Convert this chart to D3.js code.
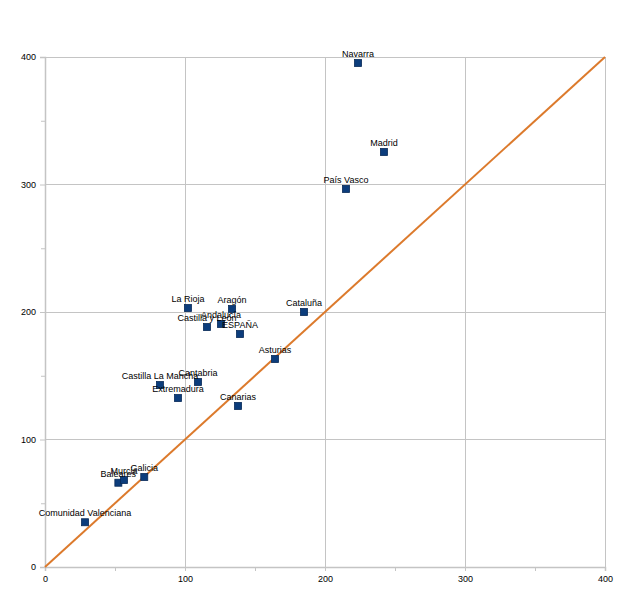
<!DOCTYPE html>
<html><head><meta charset="utf-8">
<script src="https://cdn.jsdelivr.net/npm/d3@7"></script>
<style>body{margin:0;background:#fff}svg{display:block}text{font-family:"Liberation Sans",Arial,sans-serif}</style>
</head><body>
<script>
const regions = ["Navarra","Madrid","País Vasco","La Rioja","Aragón","Cataluña","Castilla y León","Andalucía","ESPAÑA","Asturias","Castilla La Mancha","Cantabria","Extremadura","Canarias","Baleares","Murcia","Galicia","Comunidad Valenciana"];
const xValues = [223.6,242.1,215.0,102.1,133.6,185.0,115.7,125.7,139.3,164.3,82.1,109.3,95.0,137.9,52.4,56.4,70.9,28.6];
const yValues = [395.3,325.5,296.5,203.1,202.4,200.0,188.2,190.6,182.7,163.1,142.7,145.1,132.5,126.3,66.1,68.2,70.6,35.1];
const majorTicks = [0,100,200,300,400];
const minorTicks = [50,150,250,350];
const diagonal = [[0,0],[400,400]];

const W=640,H=604;
const svg=d3.select("body").append("svg").attr("width",W).attr("height",H);
const x=d3.scaleLinear().domain([0,400]).range([45,605]);
const y=d3.scaleLinear().domain([0,400]).range([567,57]);
const grid="#c4c4c4";

// gridlines
svg.append("g").selectAll("line").data(majorTicks.slice(1)).join("line")
  .attr("x1",d=>x(d)).attr("x2",d=>x(d)).attr("y1",y(0)).attr("y2",y(400))
  .attr("stroke",grid).attr("stroke-width",1).attr("shape-rendering","crispEdges");
svg.append("g").selectAll("line").data(majorTicks.slice(1)).join("line")
  .attr("y1",d=>y(d)).attr("y2",d=>y(d)).attr("x1",x(0)).attr("x2",x(400))
  .attr("stroke",grid).attr("stroke-width",1).attr("shape-rendering","crispEdges");

// axes
const xAxis=d3.axisBottom(x).tickValues(majorTicks).tickSize(4).tickPadding(5).tickFormat(d3.format("d"));
const yAxis=d3.axisLeft(y).tickValues(majorTicks).tickSize(5).tickPadding(4).tickFormat(d3.format("d"));
const gx=svg.append("g").attr("transform",`translate(0,${y(0)})`).call(xAxis);
const gy=svg.append("g").attr("transform",`translate(${x(0)},0)`).call(yAxis);
[gx,gy].forEach(g=>{
  g.select(".domain").attr("stroke",grid).attr("stroke-width",1.5);
  g.selectAll(".tick line").attr("stroke",grid);
  g.selectAll(".tick text").attr("fill","#000").attr("font-size",9).attr("font-family","Liberation Sans, Arial, sans-serif");
});
gx.selectAll(".tick").filter(d=>d===400).select("line").attr("y1",-0);
// minor ticks
svg.append("g").attr("transform",`translate(0,${y(0)})`)
  .call(d3.axisBottom(x).tickValues(minorTicks).tickSize(4).tickFormat(""))
  .call(g=>{g.select(".domain").remove();g.selectAll("line").attr("stroke",grid);});
svg.append("g").attr("transform",`translate(${x(0)},0)`)
  .call(d3.axisLeft(y).tickValues(minorTicks).tickSize(4).tickFormat(""))
  .call(g=>{g.select(".domain").remove();g.selectAll("line").attr("stroke",grid);});

// diagonal line
svg.append("path").datum(diagonal)
  .attr("d",d3.line().x(d=>x(d[0])).y(d=>y(d[1])))
  .attr("stroke","#dc7a2c").attr("stroke-width",2).attr("fill","none");

// points
const data=regions.map((r,i)=>({r,x:xValues[i],y:yValues[i]}));
const s=7;
svg.append("g").selectAll("rect").data(data).join("rect")
  .attr("x",d=>x(d.x)-s/2).attr("y",d=>y(d.y)-s/2).attr("width",s).attr("height",s)
  .attr("fill","#0c3d7c").attr("stroke","#082a57").attr("stroke-width",0.8);

// labels
svg.append("g").selectAll("text").data(data).join("text")
  .attr("x",d=>x(d.x)).attr("y",d=>y(d.y)-6)
  .attr("text-anchor","middle").attr("font-size",9).attr("fill","#000")
  .text(d=>d.r);
</script>
</body></html>
